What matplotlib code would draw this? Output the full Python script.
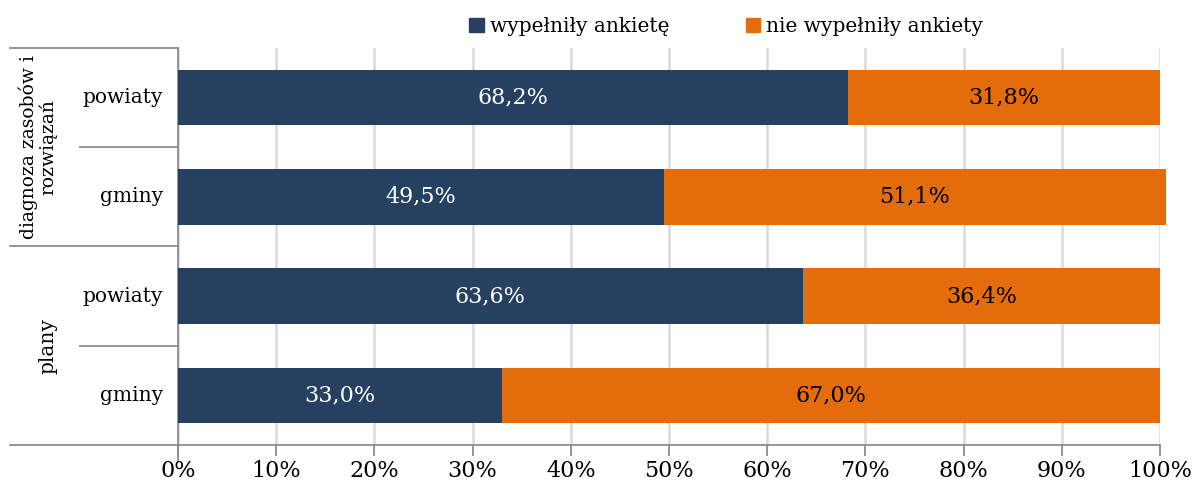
import matplotlib.pyplot as plt
from matplotlib.transforms import blended_transform_factory
from matplotlib.lines import Line2D
import matplotlib.patches as mpatches

plt.rcParams['font.family'] = ['DejaVu Serif']

categories = ["powiaty", "gminy", "powiaty", "gminy"]
groups = ["diagnoza zasobów i\nrozwiązań", "plany"]
filled = [68.2, 49.5, 63.6, 33.0]
not_filled = [31.8, 51.1, 36.4, 67.0]
series_names = ["wypełniły ankietę", "nie wypełniły ankiety"]
ticks = [0, 10, 20, 30, 40, 50, 60, 70, 80, 90, 100]

navy = "#264061"
orange = "#e46c0a"
axis_grey = "#8c8c8c"
num_size = 16
txt_size = 14.5

W, H = 1193, 486
fig = plt.figure(figsize=(W / 100, H / 100), dpi=100)
ax = fig.add_axes([178 / W, 1 - 445 / H, (1160 - 178) / W, (445 - 48) / H])

ypos = list(range(len(categories)))
bh = 0.56
ax.barh(ypos, filled, height=bh, color=navy, zorder=3, clip_on=False)
ax.barh(ypos, not_filled, left=filled, height=bh, color=orange, zorder=3, clip_on=False)

for i in ypos:
    ax.text(filled[i] / 2, i, f"{filled[i]:.1f}%".replace(".", ","), ha="center", va="center",
            color="white", fontsize=num_size, zorder=4)
    ax.text(filled[i] + not_filled[i] / 2, i, f"{not_filled[i]:.1f}%".replace(".", ","),
            ha="center", va="center", color="black", fontsize=num_size, zorder=4)

ax.set_xlim(0, 100)
ax.set_ylim(len(categories) - 0.5, -0.5)
ax.set_xticks(ticks)
ax.set_xticklabels([f"{t}%" for t in ticks], fontsize=num_size)
ax.tick_params(axis="x", length=8, width=1.3, color=axis_grey, pad=3)
ax.set_yticks([])
ax.grid(axis="x", color="#d9d9d9", linewidth=1.8, zorder=0)
for s in ["top", "right"]:
    ax.spines[s].set_visible(False)
for s in ["left", "bottom"]:
    ax.spines[s].set_color(axis_grey)
    ax.spines[s].set_linewidth(1.3)

# grouped category labels on the left
tr = blended_transform_factory(fig.transFigure, ax.transData)
for y in [-0.5, 1.5, 3.5]:
    fig.add_artist(Line2D([10 / W, 178 / W], [y, y], transform=tr, color=axis_grey, lw=1.3))
for y in [0.5, 2.5]:
    fig.add_artist(Line2D([80 / W, 178 / W], [y, y], transform=tr, color=axis_grey, lw=1.3))
fig.add_artist(Line2D([178 / W, 178 / W], [1 - 445 / H, 1 - 460 / H], color=axis_grey, lw=1.3))

for i, c in enumerate(categories):
    ax.text(163 / W, i, c, transform=tr, ha="right", va="center", fontsize=txt_size)

ax.text(38 / W, 0.5, groups[0], transform=tr, ha="center", va="center", rotation=90,
        fontsize=13.5, linespacing=1.0)
ax.text(48 / W, 2.5, groups[1], transform=tr, ha="center", va="center", rotation=90,
        fontsize=txt_size)

handles = [mpatches.Patch(color=navy, label=series_names[0]),
           mpatches.Patch(color=orange, label=series_names[1])]
fig.legend(handles=handles, loc="center", bbox_to_anchor=(726 / W, 1 - 27 / H), ncol=2,
           frameon=False, fontsize=txt_size, handlelength=0.7, handleheight=0.7,
           handletextpad=0.3, columnspacing=3.8)

fig.savefig("out.png", dpi=100)
